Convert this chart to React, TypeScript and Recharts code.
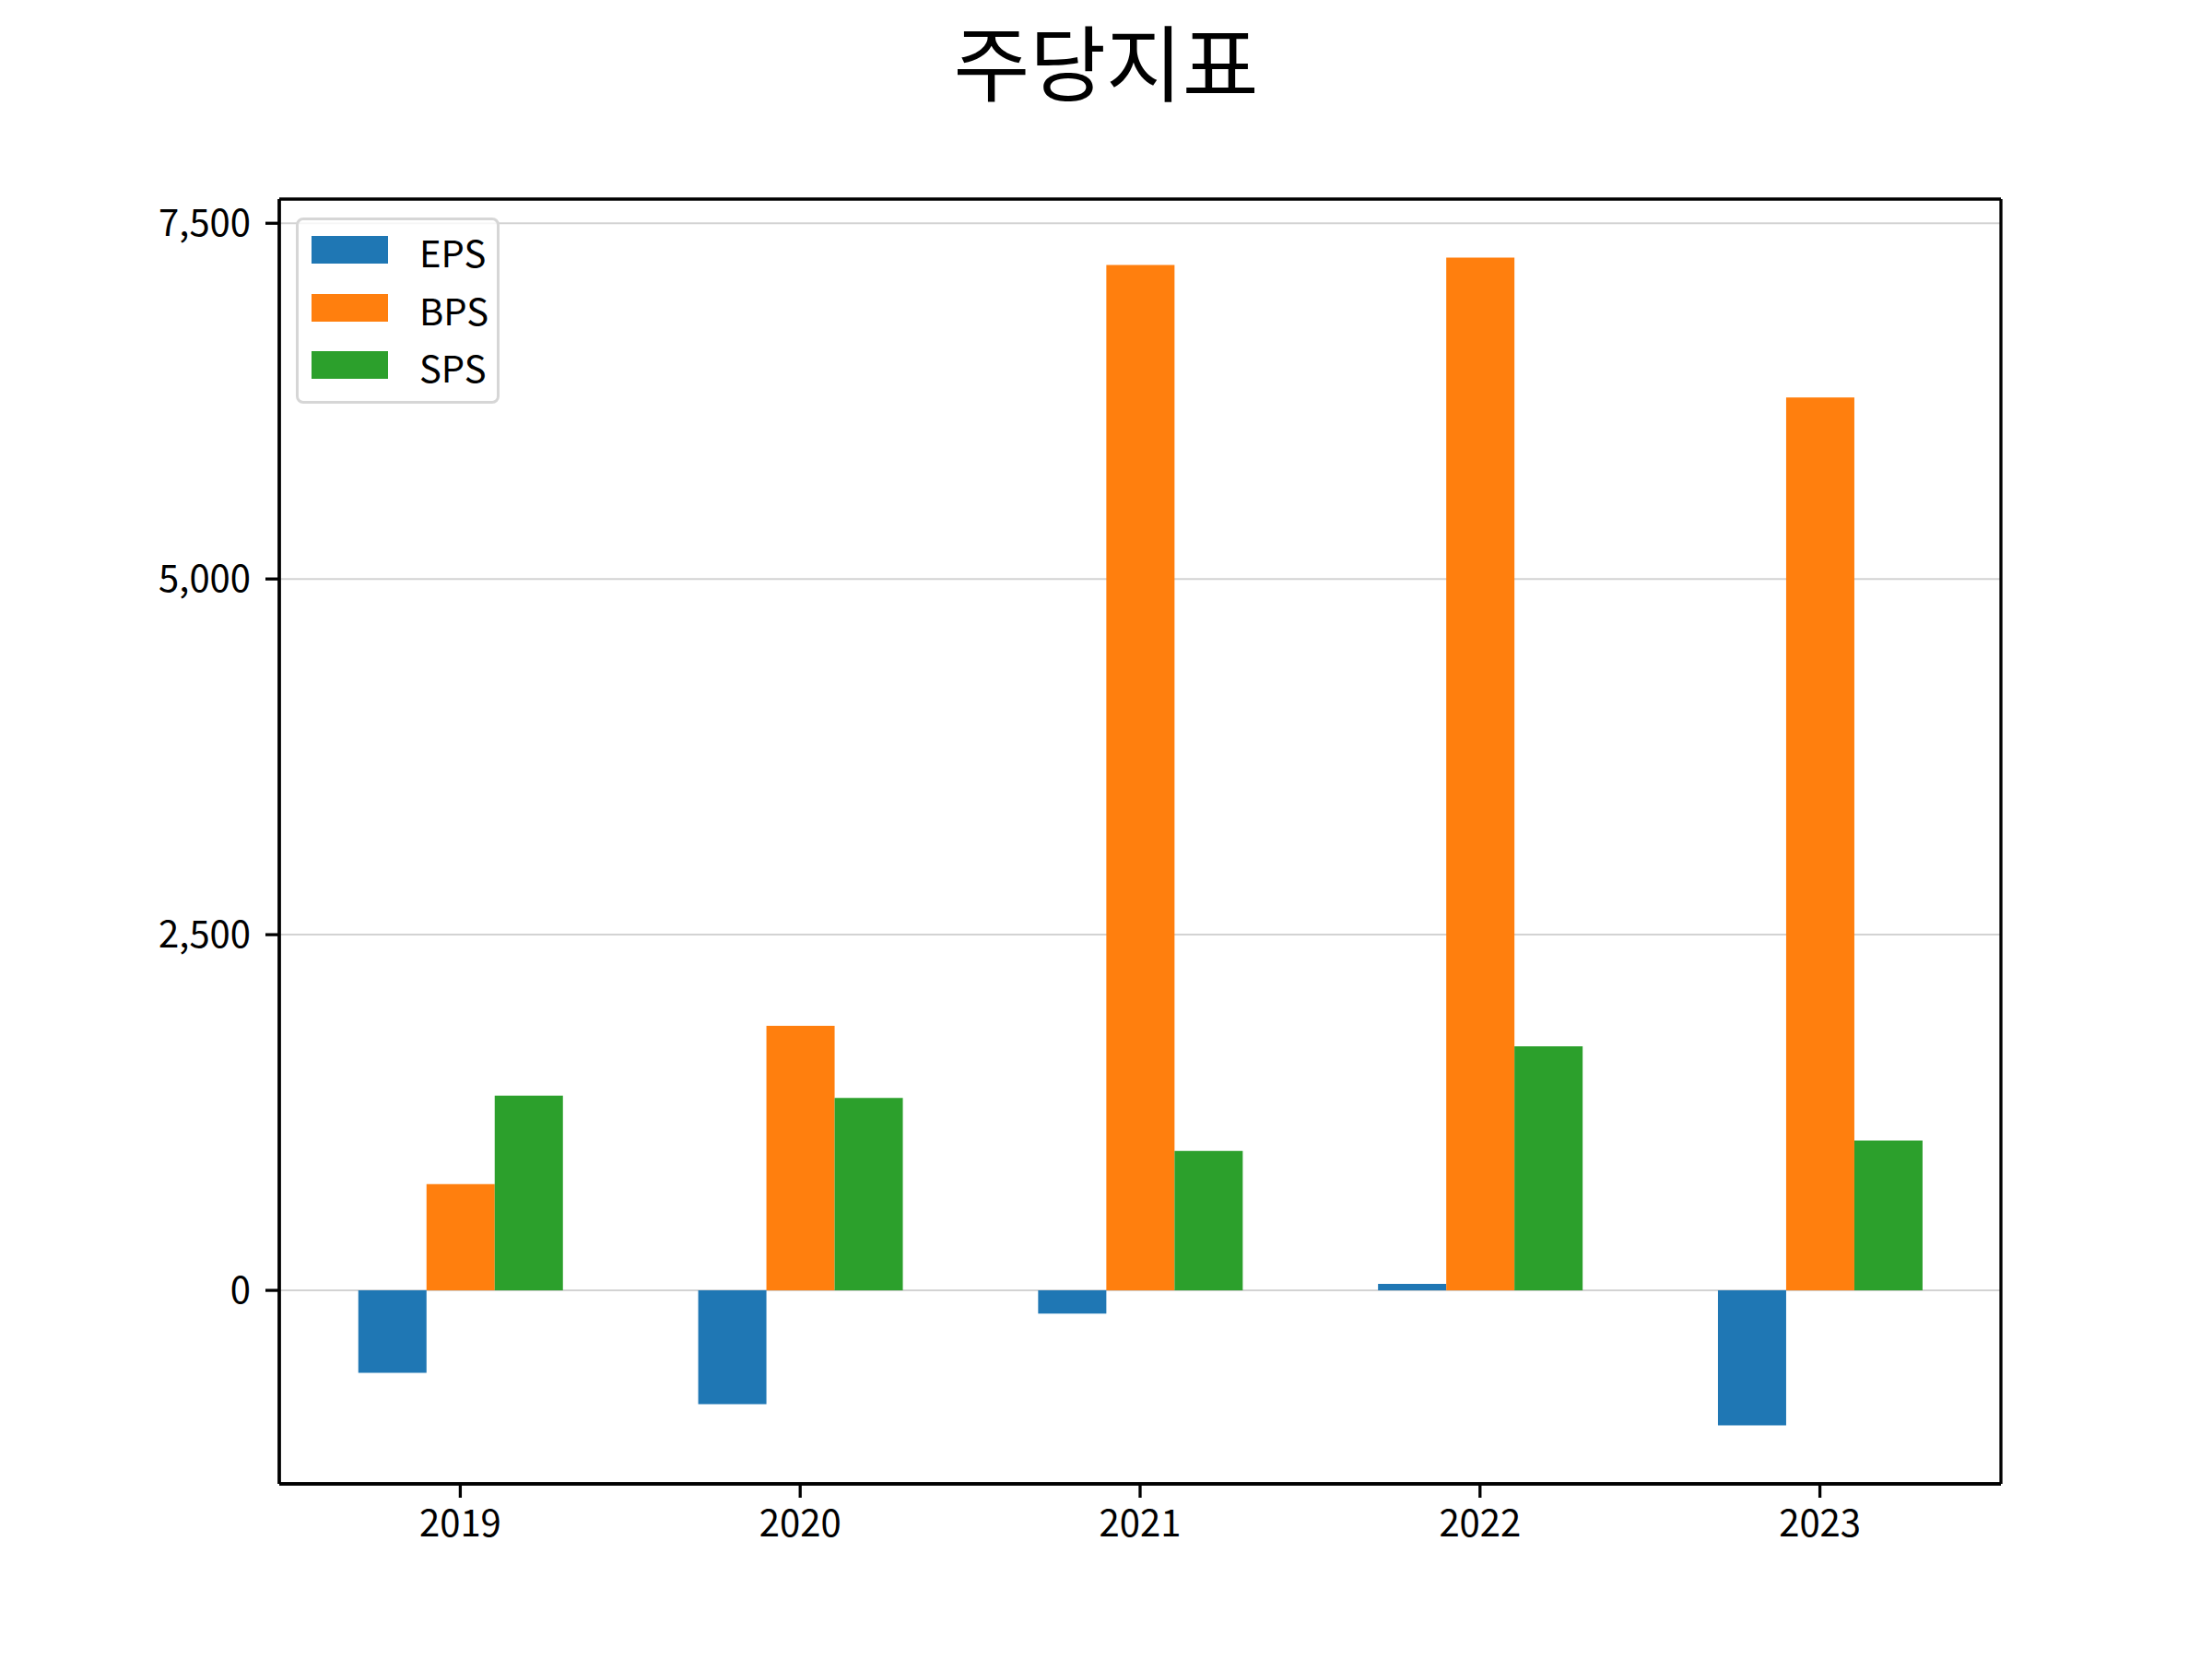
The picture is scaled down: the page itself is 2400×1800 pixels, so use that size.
import { Bar, BarChart, CartesianGrid, Legend, XAxis, YAxis } from "recharts";

const YEARS = ["2019", "2020", "2021", "2022", "2023"];
const EPS = [-580, -800, -163, 45, -948];
const BPS = [747, 1860, 7207, 7259, 6276];
const SPS = [1369, 1352, 980, 1716, 1053];
const Y_TICKS = [0, 2500, 5000, 7500];
const Y_DOMAIN = [-1360, 7670];

const SERIES = [
  { key: "EPS", color: "#1f77b4" },
  { key: "BPS", color: "#ff7f0e" },
  { key: "SPS", color: "#2ca02c" },
];

const FONT = '"Noto Sans CJK KR", "Noto Sans", sans-serif';
const SPINE = { stroke: "#000", strokeWidth: 3.3 };
const MARGIN = { top: 216, right: 229, bottom: 70, left: 103 };

const data = YEARS.map((year, i) => ({ year, EPS: EPS[i], BPS: BPS[i], SPS: SPS[i] }));

// 축 프레임(위·오른쪽 포함)을 플롯 영역 경계에 그린다
const frameRows = (p: any) => {
  const o = p?.offset ?? { top: MARGIN.top, height: 1394 };
  return [o.top, o.top + o.height];
};
const frameCols = (p: any) => {
  const o = p?.offset ?? { left: 303, width: 1868 };
  return [o.left, o.left + o.width];
};

function LegendBox() {
  return (
    <div
      style={{
        position: "relative",
        width: 221,
        height: 202,
        boxSizing: "border-box",
        border: "3.3px solid #d6d6d6",
        borderRadius: 8,
        background: "rgba(255,255,255,0.8)",
        fontFamily: FONT,
      }}
    >
      {SERIES.map((s, i) => (
        <div key={s.key}>
          <div
            style={{ position: "absolute", left: 14, top: 17 + 62.7 * i, width: 83, height: 30, background: s.color }}
          />
          <div
            style={{
              position: "absolute",
              left: 131,
              top: 9 + 62.7 * i,
              height: 50,
              lineHeight: "50px",
              fontSize: 40,
              color: "#000",
              whiteSpace: "nowrap",
            }}
          >
            {s.key}
          </div>
        </div>
      ))}
    </div>
  );
}

export default function App() {
  return (
    <div style={{ position: "absolute", left: 0, top: 0, width: 2400, height: 1800, background: "#fff", fontFamily: FONT }}>
      <div
        style={{
          position: "absolute",
          left: 0,
          top: 19,
          width: 2400,
          height: 90,
          lineHeight: "90px",
          textAlign: "center",
          fontSize: 90,
          color: "#000",
        }}
      >
        주당지표
      </div>
      <BarChart width={2400} height={1800} data={data} margin={MARGIN} barCategoryGap="20%" barGap={0}>
        {SERIES.map((s) => (
          <Bar key={s.key} dataKey={s.key} fill={s.color} isAnimationActive={false} />
        ))}
        <CartesianGrid vertical={false} stroke="#d3d3d3" strokeWidth={2} />
        <XAxis
          dataKey="year"
          interval={0}
          height={120}
          padding={{ left: 12, right: 12 }}
          tickSize={15}
          tickMargin={14}
          axisLine={SPINE}
          tickLine={SPINE}
          tick={{ fill: "#000", fontSize: 40, fontFamily: FONT }}
        />
        <YAxis
          type="number"
          domain={Y_DOMAIN}
          ticks={Y_TICKS}
          allowDataOverflow
          width={200}
          tickSize={15}
          tickMargin={16}
          axisLine={SPINE}
          tickLine={SPINE}
          tick={{ fill: "#000", fontSize: 40, fontFamily: FONT }}
          tickFormatter={(v: number) => v.toLocaleString("en-US")}
        />
        <CartesianGrid
          stroke="#000"
          strokeWidth={3.3}
          horizontalCoordinatesGenerator={frameRows}
          verticalCoordinatesGenerator={frameCols}
        />
        <Legend
          layout="horizontal"
          verticalAlign="middle"
          align="center"
          content={() => <LegendBox />}
          wrapperStyle={{ top: 236, left: 321, width: "auto", height: "auto" }}
        />
      </BarChart>
    </div>
  );
}
